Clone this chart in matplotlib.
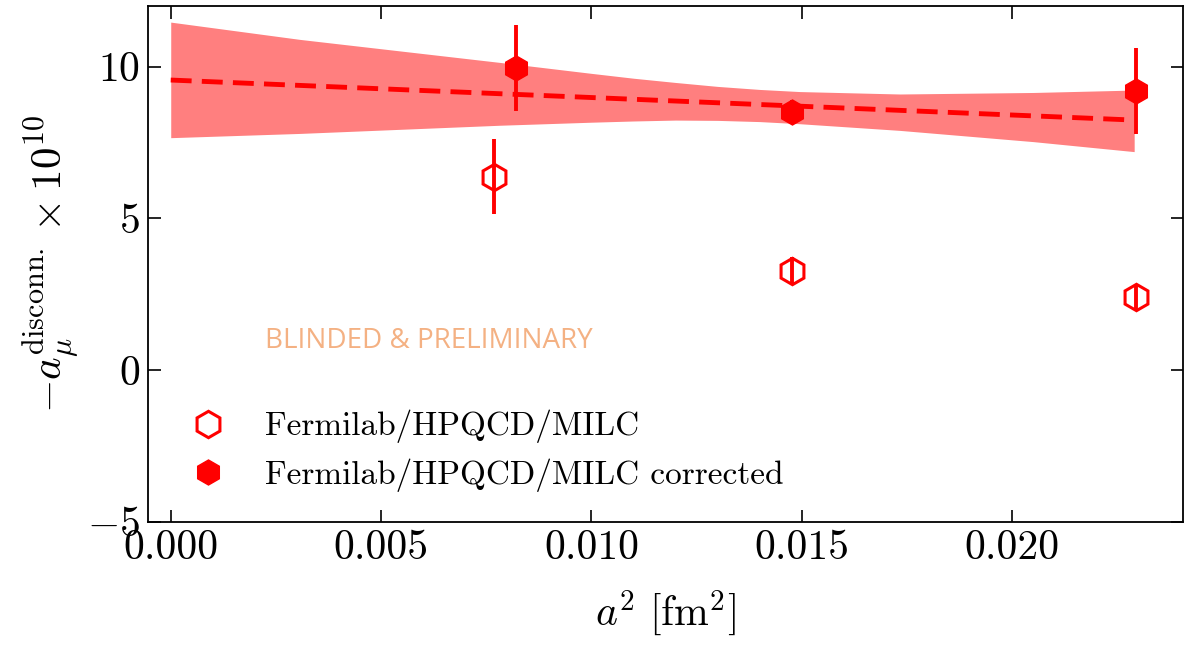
import matplotlib
matplotlib.use("Agg")
import matplotlib.pyplot as plt

# ---------------------------------------------------
# Data
# ---------------------------------------------------

a2_raw = [0.00769, 0.01476, 0.02294]
amu_raw = [6.37, 3.27, 2.42]
err_raw = [1.24, 0.45, 0.40]

a2_corr = [0.00821, 0.01476, 0.02294]
amu_corr = [9.96, 8.51, 9.20]
err_corr = [1.43, 0.40, 1.42]

fit_x = [0.0, 0.0229]
fit_y = [9.56, 8.24]

band_x = [0.0, 0.00307, 0.00783, 0.0100, 0.0110, 0.0120, 0.0130, 0.0140,
          0.01495, 0.01733, 0.0205, 0.0229]
band_hi = [11.47, 10.90, 10.14, 9.78, 9.62, 9.48, 9.35, 9.25,
           9.18, 9.10, 9.15, 9.23]
band_lo = [7.66, 7.80, 8.07, 8.17, 8.21, 8.24, 8.23, 8.19,
           8.12, 7.90, 7.53, 7.20]

label_raw = "Fermilab/HPQCD/MILC"
label_corr = "Fermilab/HPQCD/MILC corrected"

# ---------------------------------------------------
# Style
# ---------------------------------------------------

plt.rcParams["font.family"] = "serif"
plt.rcParams["font.serif"] = ["cmr10"]
plt.rcParams["mathtext.fontset"] = "cm"
plt.rcParams["axes.formatter.use_mathtext"] = True
plt.rcParams["axes.linewidth"] = 1.3

fig = plt.figure(figsize=(11.85, 6.48), dpi=100)
ax = fig.add_axes([0.1249, 0.1949, 0.8734, 0.7958])

# ---------------------------------------------------
# Fit band + line
# ---------------------------------------------------

ax.fill_between(band_x, band_lo, band_hi, color="red", alpha=0.5, linewidth=0)
ax.plot(fit_x, fit_y, color="red", linestyle="--", linewidth=3.5,
        dashes=(4.3, 2.1))

# ---------------------------------------------------
# Points
# ---------------------------------------------------

ax.errorbar(a2_raw, amu_raw, yerr=err_raw, fmt="none",
            ecolor="red", elinewidth=2.8, capsize=0)
ax.errorbar(a2_corr, amu_corr, yerr=err_corr, fmt="none",
            ecolor="red", elinewidth=2.8, capsize=0)

ax.plot(a2_raw, amu_raw, linestyle="none", marker="h", markersize=19,
        markerfacecolor="none", markeredgecolor="red", markeredgewidth=2.2,
        label=label_raw)
ax.plot(a2_corr, amu_corr, linestyle="none", marker="h", markersize=18,
        color="red", label=label_corr)

# ---------------------------------------------------
# Axes
# ---------------------------------------------------

ax.set_xlim(-0.00054, 0.02406)
ax.set_ylim(-5, 12)
ax.set_xticks([0.0, 0.005, 0.010, 0.015, 0.020])
ax.set_xticklabels(["0.000", "0.005", "0.010", "0.015", "0.020"])
ax.set_yticks([-5, 0, 5, 10])

ax.tick_params(direction="in", top=True, right=True, length=9,
               width=1.2, labelsize=30, pad=6)

ax.set_xlabel(r"$a^2\ [\mathrm{fm}^2]$", fontsize=30, labelpad=15)
ax.set_ylabel(r"$-a_\mu^{\mathrm{disconn.}}\times 10^{10}$", fontsize=31,
              labelpad=3)

ax.legend(loc="lower left", bbox_to_anchor=(0.0, 0.0), frameon=False,
          fontsize=24, handlelength=1.8, handletextpad=0.8,
          labelspacing=0.45)

ax.text(0.00225, 0.95, "BLINDED & PRELIMINARY", family="Open Sans",
        fontsize=20, color="#F4B183", va="center")

plt.savefig("out.png", dpi=100)
plt.close()
